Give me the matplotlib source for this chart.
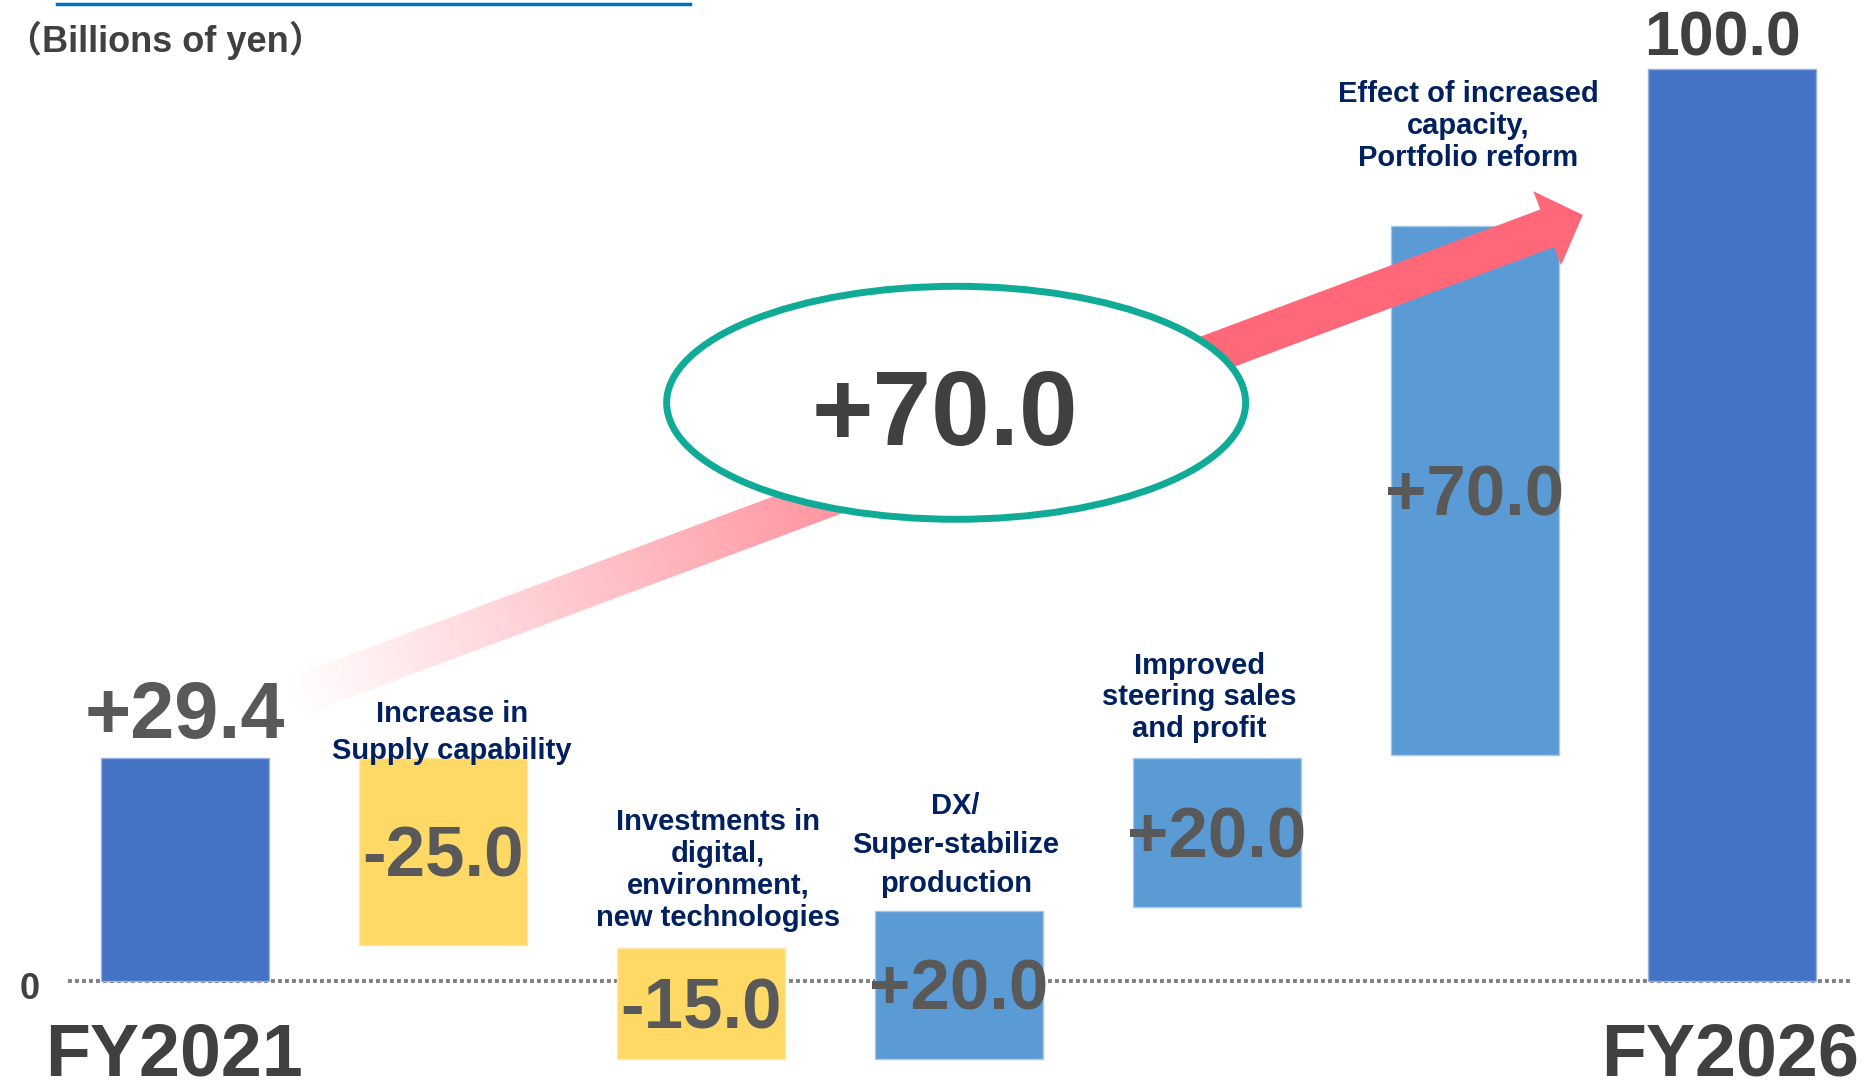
"""Schematic waterfall: FY2021 -> FY2026 bridge (billions of yen)."""

import matplotlib

matplotlib.use("Agg")
import matplotlib.pyplot as plt
import numpy as np
from matplotlib.colors import to_rgb
from matplotlib.patches import Ellipse, Polygon

plt.rcParams["font.family"] = ["Liberation Sans", "Noto Sans CJK JP", "DejaVu Sans"]
plt.rcParams["font.weight"] = "bold"

# ---- data -------------------------------------------------------------
steps = [
    "FY2021",
    "Increase in\nSupply capability",
    "Investments in\ndigital,\nenvironment,\nnew technologies",
    "DX/\nSuper-stabilize\nproduction",
    "Improved\nsteering sales\nand profit",
    "Effect of increased\ncapacity,\nPortfolio reform",
    "FY2026",
]
values = [29.4, -25.0, -15.0, 20.0, 20.0, 70.0, 100.0]
is_total = [True, False, False, False, False, False, True]
# bar extents as drawn on the slide (schematic, not to scale)
bar_low = [0.0, 4.0, -8.5, -8.5, 8.1, 24.8, 0.0]
bar_high = [24.5, 24.5, 3.6, 7.7, 24.5, 82.8, 100.0]
total_change = 70.0
unit_label = "（Billions of yen）"

# ---- layout -----------------------------------------------------------
W, H = 1876, 1086
FIRST_BAR_PX = 185
BAR_STEP_PX = 257.9
ZERO_PX = 981
PX_PER_UNIT = 9.12
BAR_WIDTH = 168 / BAR_STEP_PX

TOTAL_COLOR = "#4472C4"
UP_COLOR = "#5B9BD5"
DOWN_COLOR = "#FFD966"
NAVY = "#002060"
DARK = "#404040"
MID = "#595959"
TEAL = "#10AB96"
PINK = "#FF6878"

# category label nudges (px) and line spacing
label_dx = [0, 9, 17, -3, -17, -6, 0]
label_dy = [0, -7, 16, 13, 15, 54, 0]
label_ls = [1.2, 1.38, 1.19, 1.5, 1.15, 1.18, 1.2]


def lighten(color, amount=0.45):
    r, g, b = to_rgb(color)
    return (r + (1 - r) * amount, g + (1 - g) * amount, b + (1 - b) * amount)


def draw_gradient_arrow(ax, start, tip, color, shaft_px=40, head_w_px=79,
                        head_len_px=38, fade_px=820):
    tr = ax.transData
    s = tr.transform(start)
    t = tr.transform(tip)
    d = t - s
    u = d / np.hypot(*d)
    n = np.array([-u[1], u[0]])
    base = t - u * head_len_px
    hw, hh = shaft_px / 2, head_w_px / 2
    pts = np.array([s + n * hw, base + n * hw, base + n * hh, t,
                    base - n * hh, base - n * hw, s - n * hw])
    patch = Polygon(tr.inverted().transform(pts), closed=True,
                    facecolor="none", edgecolor="none", transform=tr)
    ax.add_patch(patch)

    x0, y0 = pts.min(axis=0)
    x1, y1 = pts.max(axis=0)
    nx, ny = int(x1 - x0) + 1, int(y1 - y0) + 1
    gx, gy = np.meshgrid(np.linspace(x0, x1, nx), np.linspace(y0, y1, ny))
    proj = (gx - s[0]) * u[0] + (gy - s[1]) * u[1]
    img = np.zeros((ny, nx, 4))
    img[..., :3] = to_rgb(color)
    img[..., 3] = np.clip(proj / fade_px, 0, 1)
    (dx0, dy0), (dx1, dy1) = tr.inverted().transform([[x0, y0], [x1, y1]])
    im = ax.imshow(img, extent=[dx0, dx1, dy0, dy1], origin="lower",
                   aspect="auto", interpolation="bilinear", zorder=3)
    im.set_clip_path(patch)


fig = plt.figure(figsize=(W / 100, H / 100), dpi=100)
ax = fig.add_axes([0, 0, 1, 1])
ax.axis("off")
xlim = (-FIRST_BAR_PX / BAR_STEP_PX, (W - FIRST_BAR_PX) / BAR_STEP_PX)
ylim = (-(H - ZERO_PX) / PX_PER_UNIT, ZERO_PX / PX_PER_UNIT)
ax.set_xlim(*xlim)
ax.set_ylim(*ylim)

x = np.arange(len(steps))
colors = [TOTAL_COLOR if tot else (UP_COLOR if v > 0 else DOWN_COLOR)
          for tot, v in zip(is_total, values)]
heights = [hi - lo for lo, hi in zip(bar_low, bar_high)]
ax.bar(x, heights, bottom=bar_low, width=BAR_WIDTH, color=colors,
       edgecolor=[lighten(c) for c in colors], linewidth=1.0, zorder=2)

# zero line
ax.axhline(0, xmin=68 / W, xmax=1852 / W, color="#7F7F7F", lw=2.8,
           linestyle=(0, (1.0, 0.8)), zorder=1)
ax.annotate("0", xy=(30 / W, 0), xycoords=("axes fraction", "data"),
            xytext=(0, -18), textcoords="offset pixels", ha="center",
            va="baseline", fontsize=26, color=DARK)

# header
ax.plot([57 / W, 690 / W], [1 - 4 / H] * 2, transform=ax.transAxes,
        color="#0070C0", lw=2.5, clip_on=False)
fig.text(6 / W, 1 - 40 / H, unit_label, ha="left", va="center",
         fontsize=26, color=DARK)

# rising arrow from the FY2021 bar towards FY2026
arrow_start = (x[0] + 0.41, bar_high[0] + 6.5)
arrow_tip = (x[5] + 0.42, bar_high[5] + 1.2)
draw_gradient_arrow(ax, arrow_start, arrow_tip, PINK)

# highlighted total change
ell_c = (2.99, 63.4)
ax.add_patch(Ellipse(ell_c, 579 / BAR_STEP_PX, 233 / PX_PER_UNIT,
                     facecolor="white", edgecolor=TEAL, lw=5, zorder=4))
ax.annotate(f"{total_change:+.1f}", xy=ell_c, xytext=(-11, -42),
            textcoords="offset pixels", ha="center", va="baseline",
            fontsize=76, color=DARK, zorder=5)

# value labels
for i, v in enumerate(values):
    label = f"{v:.1f}" if i == len(values) - 1 else f"{v:+.1f}"
    if i == 0:
        ax.annotate(label, xy=(x[i], bar_high[i]), xytext=(0, 20),
                    textcoords="offset pixels", ha="center", va="baseline",
                    fontsize=57, color=MID, zorder=5)
    elif i == len(values) - 1:
        ax.annotate(label, xy=(x[i], bar_high[i]), xytext=(-10, 14),
                    textcoords="offset pixels", ha="center", va="baseline",
                    fontsize=45, color=DARK, zorder=5)
    else:
        mid = (bar_low[i] + bar_high[i]) / 2
        ax.annotate(label, xy=(x[i], mid), xytext=(0, -25),
                    textcoords="offset pixels", ha="center", va="baseline",
                    fontsize=51, color=MID, zorder=5)

# category labels
for i, name in enumerate(steps):
    if is_total[i]:
        dx = -11 if i == 0 else -2
        ax.annotate(name, xy=(x[i], 0), xytext=(dx, -95),
                    textcoords="offset pixels", ha="center", va="baseline",
                    fontsize=53, color=DARK, zorder=5)
    else:
        ax.annotate(name, xy=(x[i], bar_high[i]),
                    xytext=(label_dx[i], label_dy[i]),
                    textcoords="offset pixels", ha="center", va="bottom",
                    multialignment="center", linespacing=label_ls[i],
                    fontsize=21, color=NAVY, zorder=5)

ax.set_xlim(*xlim)
ax.set_ylim(*ylim)
fig.savefig("out.png", dpi=100, facecolor="white")
